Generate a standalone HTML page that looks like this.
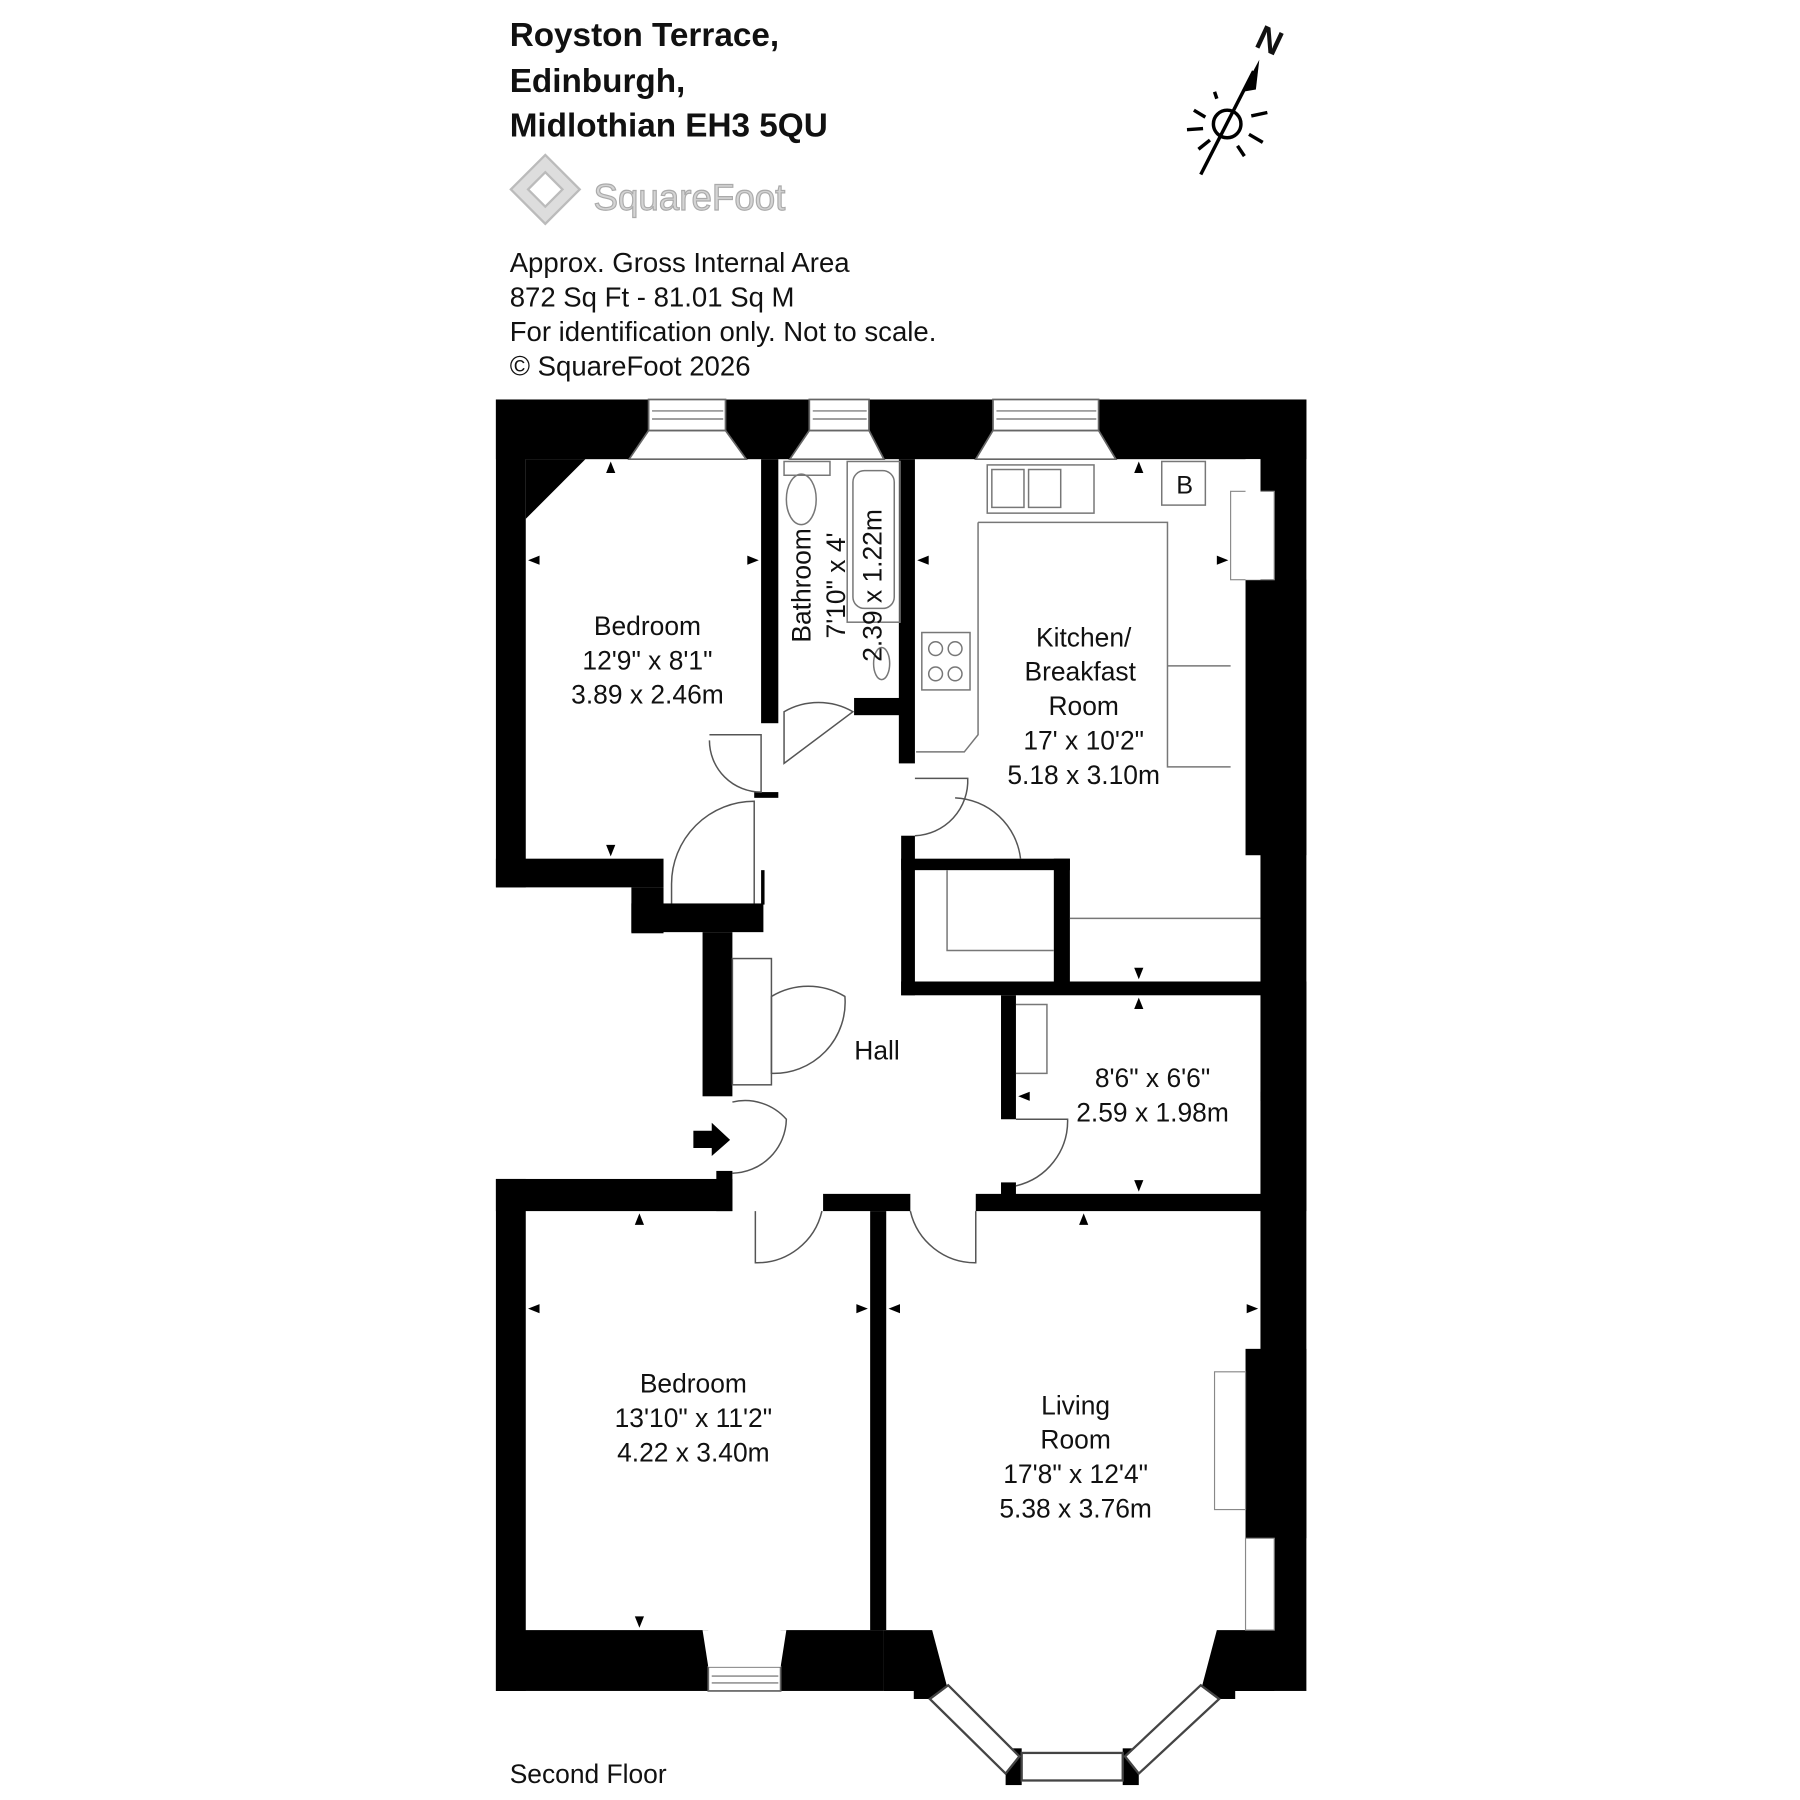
<!DOCTYPE html>
<html><head><meta charset="utf-8"><style>
html,body{margin:0;padding:0;background:#fff}
svg{display:block}
text{font-family:"Liberation Sans",sans-serif;fill:#111}
</style></head><body>
<svg width="1800" height="1800" viewBox="0 0 1568 1568" xmlns="http://www.w3.org/2000/svg">
<g font-weight="bold" font-size="29">
<text x="444" y="40">Royston Terrace,</text>
<text x="444" y="80">Edinburgh,</text>
<text x="444" y="119">Midlothian EH3 5QU</text>
</g>
<g fill="#ddd" stroke="#bbb" stroke-width="2">
<polygon points="475,135 505,165 475,195 445,165"/>
<polygon points="475,150 490,165 475,180 460,165" fill="#fff"/>
</g>
<text x="517" y="183" font-size="32" style="fill:#d4d4d4;stroke:#aaa;stroke-width:1">SquareFoot</text>
<g font-size="24">
<text x="444" y="237">Approx. Gross Internal Area</text>
<text x="444" y="267">872 Sq Ft  -  81.01 Sq M</text>
<text x="444" y="297">For identification only. Not to scale.</text>
<text x="444" y="327">© SquareFoot 2026</text>
</g>
<g stroke="#000" stroke-width="3" fill="none">
<circle cx="1069" cy="108" r="12"/>
<line x1="1046" y1="152" x2="1092" y2="62"/>
<line x1="1040" y1="96" x2="1050" y2="102"/><line x1="1034" y1="113" x2="1048" y2="112"/>
<line x1="1044" y1="130" x2="1054" y2="122"/><line x1="1078" y1="127" x2="1084" y2="136"/>
<line x1="1088" y1="117" x2="1100" y2="124"/><line x1="1090" y1="101" x2="1104" y2="98"/>
<line x1="1060" y1="86" x2="1058" y2="80"/>
</g>
<polygon points="1097,52 1082,80 1094,78" fill="#000"/>
<text x="1095" y="45" font-size="30" font-weight="bold" transform="rotate(25 1105 35)">N</text>
<g fill="#000">
<rect x="432" y="348" width="706" height="52"/>
<polygon points="458,400 510,400 458,452"/>
<rect x="432" y="348" width="26" height="425"/>
<rect x="432" y="748" width="146" height="25"/>
<rect x="550" y="773" width="28" height="40"/>
<rect x="550" y="787" width="115" height="25"/>
<rect x="612" y="812" width="26" height="143"/>
<rect x="663" y="400" width="15" height="230"/>
<rect x="663" y="758" width="3" height="30"/>
<rect x="657" y="690" width="21" height="5"/>
<rect x="744" y="608" width="40" height="15"/>
<rect x="783" y="400" width="14" height="265"/>
<rect x="785" y="728" width="12" height="139"/>
<rect x="785" y="748" width="147" height="10"/>
<rect x="918" y="748" width="14" height="110"/>
<rect x="785" y="855" width="325" height="12"/>
<rect x="1098" y="348" width="40" height="1125"/>
<rect x="1085" y="505" width="53" height="240"/>
<rect x="1085" y="1175" width="53" height="165"/>
<rect x="872" y="867" width="13" height="108"/>
<rect x="1110" y="855" width="28" height="200"/>
<rect x="432" y="1027" width="206" height="28"/>
<rect x="624" y="1020" width="14" height="35"/>
<rect x="717" y="1040" width="76" height="15"/>
<rect x="850" y="1040" width="260" height="15"/>
<rect x="872" y="1030" width="13" height="12"/>
<rect x="432" y="1027" width="26" height="446"/>
<rect x="432" y="1420" width="185" height="53"/>
<rect x="680" y="1420" width="90" height="53"/>
<rect x="758" y="1055" width="14" height="365"/>
<polygon points="770,1420 812,1420 826,1473 770,1473"/>
<polygon points="1060,1420 1110,1420 1110,1473 1046,1473"/>
<rect x="796" y="1468" width="30" height="12"/>
<rect x="1046" y="1468" width="30" height="12"/>
<rect x="876" y="1523" width="14" height="32"/>
<rect x="978" y="1523" width="14" height="32"/>
</g>
<rect x="1072" y="428" width="38" height="77" fill="#fff" stroke="#888"/>
<rect x="1085" y="400" width="13" height="105" fill="#fff"/>
<rect x="1058" y="1195" width="27" height="120" fill="#fff" stroke="#888"/>
<rect x="1085" y="1340" width="25" height="80" fill="#fff" stroke="#888"/>
<g fill="#fff" stroke="#666" stroke-width="1.5">
<polygon points="548,400 565,375 632,375 650,400"/>
<rect x="565" y="348" width="67" height="27"/>
<polygon points="688,400 705,375 757,375 770,400"/>
<rect x="705" y="348" width="52" height="27"/>
<polygon points="850,400 865,375 957,375 972,400"/>
<rect x="865" y="348" width="92" height="27"/>
<rect x="617" y="1452" width="63" height="21"/>
<polygon points="612,1420 685,1420 680,1452 617,1452" stroke="none"/>
</g>
<g stroke="#666"><line x1="568" y1="358" x2="630" y2="358"/><line x1="568" y1="365" x2="630" y2="365"/>
<line x1="708" y1="358" x2="755" y2="358"/><line x1="708" y1="365" x2="755" y2="365"/>
<line x1="868" y1="358" x2="955" y2="358"/><line x1="868" y1="365" x2="955" y2="365"/>
<line x1="620" y1="1460" x2="678" y2="1460"/><line x1="620" y1="1466" x2="678" y2="1466"/></g>
<g fill="#fff" stroke="#444" stroke-width="2">
<polygon points="810,1480 826,1468 888,1530 876,1545"/>
<polygon points="1062,1480 1046,1468 980,1530 992,1545"/>
<rect x="890" y="1527" width="88" height="24"/>
</g>
<g fill="none" stroke="#777" stroke-width="1.3">
<rect x="860" y="405" width="93" height="42"/><rect x="864" y="409" width="28" height="33"/><rect x="896" y="409" width="28" height="33"/>
<rect x="1012" y="402" width="38" height="38"/>
<path d="M852,455 H1017 V580 H1072 M1017,580 V668 H1072 M852,455 V640 L840,655 H798"/>
<rect x="803" y="551" width="42" height="50"/>
<circle cx="815" cy="565" r="6"/><circle cx="832" cy="565" r="6"/><circle cx="815" cy="587" r="6"/><circle cx="832" cy="587" r="6"/>
<rect x="683" y="402" width="40" height="12"/><ellipse cx="698" cy="435" rx="13" ry="22"/>
<rect x="738" y="402" width="46" height="140"/><rect x="743" y="410" width="36" height="120" rx="10"/>
<ellipse cx="768" cy="578" rx="7" ry="14"/>
<path d="M932,800 H1098 M825,758 V828 H918 M885,875 H912 V935 H885"/>
<path d="M683,665 V620 A60,60 0 0 1 743,620 Z" stroke="#555"/>
<path d="M618,640 H663 V690 A45,45 0 0 1 618,645" stroke="#555"/>
<path d="M585,787 V770 A72,72 0 0 1 657,698 V787" stroke="#555"/>
<path d="M797,728 A48,48 0 0 0 843,678 H797" stroke="#555"/>
<path d="M832,695 A60,60 0 0 1 889,748" stroke="#555"/>
<path d="M672,868 A62,62 0 0 1 736,868 A62,62 0 0 1 672,935 Z" stroke="#555"/>
<rect x="638" y="835" width="34" height="110" stroke="#555"/>
<path d="M638,960 A48,48 0 0 1 685,975 A48,48 0 0 1 638,1022" stroke="#555"/>
<path d="M885,975 H930 A58,58 0 0 1 885,1033" stroke="#555"/>
<path d="M658,1055 V1100 A58,58 0 0 0 716,1055" stroke="#555"/>
<path d="M850,1055 V1100 A58,58 0 0 1 793,1055" stroke="#555"/>
</g>
<polygon points="604,985 620,985 620,978 636,993 620,1007 620,1000 604,1000" fill="#000"/>
<g font-size="23" text-anchor="middle">
<text x="1032" y="430" font-size="22">B</text>
<text x="564" y="553">Bedroom</text><text x="564" y="583">12'9" x 8'1"</text><text x="564" y="613">3.89 x 2.46m</text>
<text x="944" y="563">Kitchen/</text><text x="941" y="593">Breakfast</text><text x="944" y="623">Room</text><text x="944" y="653">17' x 10'2"</text><text x="944" y="683">5.18 x 3.10m</text>
<text transform="translate(706,510) rotate(-90)">Bathroom</text>
<text transform="translate(736,510) rotate(-90)">7'10" x 4'</text>
<text transform="translate(768,510) rotate(-90)">2.39 x 1.22m</text>
<text x="764" y="923">Hall</text>
<text x="1004" y="947">8'6" x 6'6"</text><text x="1004" y="977">2.59 x 1.98m</text>
<text x="604" y="1213">Bedroom</text><text x="604" y="1243">13'10" x 11'2"</text><text x="604" y="1273">4.22 x 3.40m</text>
<text x="937" y="1232">Living</text><text x="937" y="1262">Room</text><text x="937" y="1292">17'8" x 12'4"</text><text x="937" y="1322">5.38 x 3.76m</text>
</g>
<text x="444" y="1553" font-size="23">Second Floor</text>
<g fill="#000">
<polygon points="532,402 528,412 536,412"/><polygon points="532,746 528,736 536,736"/>
<polygon points="460,488 470,484 470,492"/><polygon points="661,488 651,484 651,492"/>
<polygon points="992,402 988,412 996,412"/><polygon points="992,853 988,843 996,843"/>
<polygon points="799,488 809,484 809,492"/><polygon points="1070,488 1060,484 1060,492"/>
<polygon points="992,869 988,879 996,879"/><polygon points="992,1038 988,1028 996,1028"/>
<polygon points="887,955 897,951 897,959"/><polygon points="1108,955 1098,951 1098,959"/>
<polygon points="557,1057 553,1067 561,1067"/><polygon points="557,1418 553,1408 561,1408"/>
<polygon points="460,1140 470,1136 470,1144"/><polygon points="756,1140 746,1136 746,1144"/>
<polygon points="944,1057 940,1067 948,1067"/><polygon points="774,1140 784,1136 784,1144"/><polygon points="1096,1140 1086,1136 1086,1144"/>
</g>
</svg>
</body></html>
